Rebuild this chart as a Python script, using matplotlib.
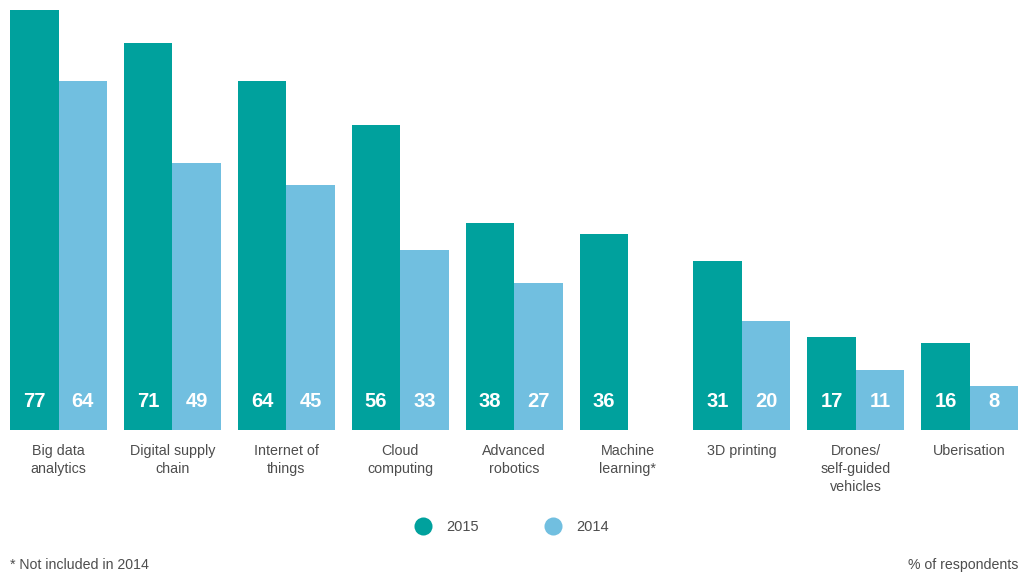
import matplotlib.pyplot as plt
from matplotlib.lines import Line2D

plt.rcParams['font.family'] = ['Liberation Sans', 'DejaVu Sans']

categories = ["Big data\nanalytics", "Digital supply\nchain", "Internet of\nthings",
              "Cloud\ncomputing", "Advanced\nrobotics", "Machine\nlearning*",
              "3D printing", "Drones/\nself-guided\nvehicles", "Uberisation"]
vals_2015 = [77, 71, 64, 56, 38, 36, 31, 17, 16]
vals_2014 = [64, 49, 45, 33, 27, None, 20, 11, 8]

dark = "#00A19D"
light = "#71BFE0"
txt = "#4d4d4d"

fig = plt.figure(figsize=(10.23, 5.73), dpi=100)
ax = fig.add_axes([0, (573 - 430) / 573, 1, 420 / 573])
ax.set_xlim(0, 1023)
ax.set_ylim(0, 77)
ax.axis("off")

step = 113.9
w = 48.5
for i, cat in enumerate(categories):
    x0 = 10 + i * step
    ax.bar(x0, vals_2015[i], width=w, align="edge", color=dark)
    ax.text(x0 + w / 2, 5.2, str(vals_2015[i]), ha="center", va="center",
            color="white", fontsize=14.5, fontweight="bold")
    if vals_2014[i] is not None:
        ax.bar(x0 + w, vals_2014[i], width=w, align="edge", color=light)
        ax.text(x0 + 1.5 * w, 5.2, str(vals_2014[i]), ha="center", va="center",
                color="white", fontsize=14.5, fontweight="bold")
    ax.text(x0 + w, -2.6, cat, ha="center", va="top", color=txt,
            fontsize=10.3, linespacing=1.35)

handles = [Line2D([], [], marker="o", linestyle="none", markersize=13,
                  markerfacecolor=dark, markeredgecolor="none", label="2015"),
           Line2D([], [], marker="o", linestyle="none", markersize=13,
                  markerfacecolor=light, markeredgecolor="none", label="2014")]
leg = fig.legend(handles=handles, loc="center", bbox_to_anchor=(0.497, 0.080),
                 ncol=2, frameon=False, fontsize=10.5, columnspacing=4.1,
                 handletextpad=0.6)
for t in leg.get_texts():
    t.set_color(txt)

fig.text(10 / 1023, 1 - 565 / 573, "* Not included in 2014", ha="left", va="center",
         fontsize=10.2, color=txt)
fig.text(1018 / 1023, 1 - 565 / 573, "% of respondents", ha="right", va="center",
         fontsize=10.2, color=txt)

fig.savefig("out.png", dpi=100, facecolor="white")
